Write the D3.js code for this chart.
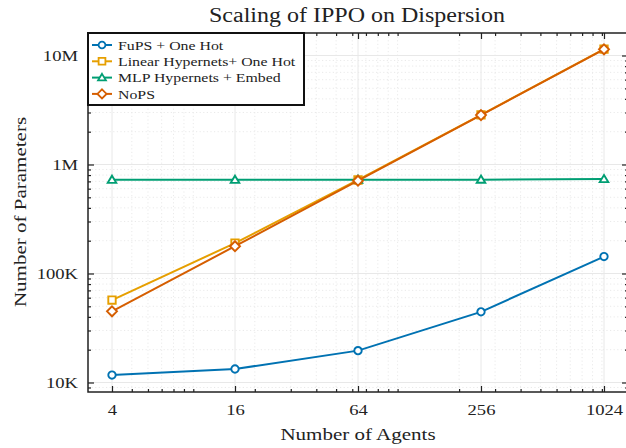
<!DOCTYPE html>
<html>
<head>
<meta charset="utf-8">
<script src="https://cdn.jsdelivr.net/npm/d3@7"></script>
<style>
  html, body { margin: 0; padding: 0; background: #fff; }
  svg text { font-family: "Liberation Serif", "DejaVu Serif", serif; fill: #222; }
</style>
</head>
<body>
<svg id="chart" width="626" height="448"></svg>
<script>
// Number of agents on the x axis
const agents = [4, 16, 64, 256, 1024];

// Parameter counts per method
const fups = [11700, 13300, 19600, 44500, 143000];
const linearHyper = [57000, 190000, 721000, 2850000, 11450000];
const mlpHyper = [724000, 724000, 725000, 726000, 735000];
const noPS = [45000, 178000, 710000, 2840000, 11400000];

const seriesNames = ["FuPS + One Hot", "Linear Hypernets+ One Hot", "MLP Hypernets + Embed", "NoPS"];
const seriesColors = ["#0072B2", "#E69F00", "#009E73", "#D55E00"];
const seriesMarkers = ["circle", "square", "triangle", "diamond"];

const xTickValues = [4, 16, 64, 256, 1024];
const yTickValues = [1e4, 1e5, 1e6, 1e7];
const yTickLabels = ["10K", "100K", "1M", "10M"];

const titleText = "Scaling of IPPO on Dispersion";
const xLabel = "Number of Agents";
const yLabel = "Number of Parameters";

const svg = d3.select("#chart");

// Plot frame
const frame = { left: 88, right: 628, top: 33, bottom: 392 };

const x = d3.scaleLog().base(2).domain([4, 1024]).range([112, 604]);
const y = d3.scaleLog().domain([1e4, 1e7]).range([382.5, 55.5]);

const xLo = x.invert(frame.left), xHi = x.invert(frame.right);
const yLo = y.invert(frame.bottom), yHi = y.invert(frame.top);

// Widen serif glyphs a little so the text runs as wide as a Computer Modern setting
const STRETCH = 1.2;
function widen(sel) {
  sel.each(function () {
    const w = this.getComputedTextLength();
    if (w > 0) {
      d3.select(this).attr("textLength", w * STRETCH).attr("lengthAdjust", "spacingAndGlyphs");
    }
  });
}

// Minor ticks at k·10^n inside the visible range
function minorValues(lo, hi, majors) {
  const out = [];
  for (let e = Math.floor(Math.log10(lo)); e <= Math.ceil(Math.log10(hi)); e++) {
    for (let k = 1; k <= 9; k++) {
      const v = k * Math.pow(10, e);
      if (v >= lo && v <= hi && !majors.some(m => Math.abs(m - v) / m < 1e-9)) out.push(v);
    }
  }
  return out;
}
const xMinor = minorValues(xLo, xHi, xTickValues);
const yMinor = minorValues(yLo, yHi, yTickValues);

const grid = svg.append("g");
// minor grid (dotted)
grid.selectAll("line.xmg").data(xMinor).join("line")
  .attr("x1", d => x(d)).attr("x2", d => x(d))
  .attr("y1", frame.top).attr("y2", frame.bottom)
  .attr("stroke", "#e4e4e4").attr("stroke-width", 0.8).attr("stroke-dasharray", "1.2,2.4");
grid.selectAll("line.ymg").data(yMinor).join("line")
  .attr("y1", d => y(d)).attr("y2", d => y(d))
  .attr("x1", frame.left).attr("x2", frame.right)
  .attr("stroke", "#e4e4e4").attr("stroke-width", 0.8).attr("stroke-dasharray", "1.2,2.4");
// major grid
grid.selectAll("line.xg").data(xTickValues).join("line")
  .attr("x1", d => x(d)).attr("x2", d => x(d))
  .attr("y1", frame.top).attr("y2", frame.bottom)
  .attr("stroke", "#e8e8e8").attr("stroke-width", 1);
grid.selectAll("line.yg").data(yTickValues).join("line")
  .attr("y1", d => y(d)).attr("y2", d => y(d))
  .attr("x1", frame.left).attr("x2", frame.right)
  .attr("stroke", "#e8e8e8").attr("stroke-width", 1);

// Axes with inward ticks on all four sides
const axisColor = "#222";
function styleAxis(g) {
  g.select(".domain").remove();
  g.selectAll(".tick line").attr("stroke", axisColor).attr("stroke-width", 1.2);
}
// bottom
svg.append("g").attr("transform", `translate(0,${frame.bottom})`)
  .call(d3.axisBottom(x).tickValues(xTickValues).tickFormat(d3.format("d")).tickSizeInner(-6).tickSizeOuter(0).tickPadding(12))
  .call(styleAxis)
  .call(g => g.selectAll("text").attr("font-size", 15.5).attr("font-family", "Liberation Serif").attr("fill", "#222").call(widen));
svg.append("g").attr("transform", `translate(0,${frame.bottom})`)
  .call(d3.axisBottom(x).tickValues(xMinor).tickFormat("").tickSizeInner(-3).tickSizeOuter(0))
  .call(styleAxis);
// top
svg.append("g").attr("transform", `translate(0,${frame.top})`)
  .call(d3.axisTop(x).tickValues(xTickValues).tickFormat("").tickSizeInner(-6).tickSizeOuter(0))
  .call(styleAxis);
svg.append("g").attr("transform", `translate(0,${frame.top})`)
  .call(d3.axisTop(x).tickValues(xMinor).tickFormat("").tickSizeInner(-3).tickSizeOuter(0))
  .call(styleAxis);
// left
svg.append("g").attr("transform", `translate(${frame.left},0)`)
  .call(d3.axisLeft(y).tickValues(yTickValues).tickFormat((d, i) => yTickLabels[i]).tickSizeInner(-6).tickSizeOuter(0).tickPadding(10))
  .call(styleAxis)
  .call(g => g.selectAll("text").attr("font-size", 15.5).attr("font-family", "Liberation Serif").attr("fill", "#222").call(widen));
svg.append("g").attr("transform", `translate(${frame.left},0)`)
  .call(d3.axisLeft(y).tickValues(yMinor).tickFormat("").tickSizeInner(-3).tickSizeOuter(0))
  .call(styleAxis);
// right
svg.append("g").attr("transform", `translate(${frame.right},0)`)
  .call(d3.axisRight(y).tickValues(yTickValues).tickFormat("").tickSizeInner(-6).tickSizeOuter(0))
  .call(styleAxis);
svg.append("g").attr("transform", `translate(${frame.right},0)`)
  .call(d3.axisRight(y).tickValues(yMinor).tickFormat("").tickSizeInner(-3).tickSizeOuter(0))
  .call(styleAxis);

// frame border
svg.append("rect")
  .attr("x", frame.left).attr("y", frame.top)
  .attr("width", frame.right - frame.left).attr("height", frame.bottom - frame.top)
  .attr("fill", "none").attr("stroke", axisColor).attr("stroke-width", 1.5);

// Series
const allSeries = [fups, linearHyper, mlpHyper, noPS];
const line = d3.line().x((d, i) => x(agents[i])).y(d => y(d));

function markerPath(type, size) {
  const s = size;
  if (type === "circle") return d3.symbol(d3.symbolCircle, s * s * Math.PI)();
  if (type === "square") return `M${-s},${-s}H${s}V${s}H${-s}Z`;
  if (type === "triangle") {
    const h = s * 1.1;
    return `M0,${-h}L${h * 1.05},${h * 0.75}L${-h * 1.05},${h * 0.75}Z`;
  }
  // diamond
  const d = s * 1.35;
  return `M0,${-d}L${d},0L0,${d}L${-d},0Z`;
}

const plot = svg.append("g");
allSeries.forEach((vals, si) => {
  const g = plot.append("g");
  g.append("path").datum(vals).attr("d", line)
    .attr("fill", "none").attr("stroke", seriesColors[si]).attr("stroke-width", 2);
  g.selectAll("path.m").data(vals).join("path").attr("class", "m")
    .attr("transform", (d, i) => `translate(${x(agents[i])},${y(d)})`)
    .attr("d", markerPath(seriesMarkers[si], 3.7))
    .attr("fill", "#fff").attr("stroke", seriesColors[si]).attr("stroke-width", 1.9);
});

// Legend
const legend = svg.append("g");
legend.append("rect")
  .attr("x", frame.left).attr("y", frame.top)
  .attr("width", 216).attr("height", 72)
  .attr("fill", "#fff").attr("stroke", "#111").attr("stroke-width", 2);
seriesNames.forEach((name, i) => {
  const cy = frame.top + 12 + i * 16.3;
  legend.append("line").attr("x1", 92).attr("x2", 112).attr("y1", cy).attr("y2", cy)
    .attr("stroke", seriesColors[i]).attr("stroke-width", 2);
  legend.append("path").attr("transform", `translate(102,${cy})`)
    .attr("d", markerPath(seriesMarkers[i], 3.4))
    .attr("fill", "#fff").attr("stroke", seriesColors[i]).attr("stroke-width", 1.8);
  legend.append("text").attr("x", 118).attr("y", cy).attr("dy", "0.35em")
    .attr("font-size", 13.2).text(name).call(widen);
});

// Titles
svg.append("text").attr("x", 357).attr("y", 15).attr("dy", "0.35em")
  .attr("text-anchor", "middle").attr("font-size", 20).text(titleText).call(widen);
svg.append("text").attr("x", 358).attr("y", 434).attr("dy", "0.35em")
  .attr("text-anchor", "middle").attr("font-size", 17.5).text(xLabel).call(widen);
svg.append("text").attr("transform", "translate(20,212) rotate(-90)").attr("dy", "0.35em")
  .attr("text-anchor", "middle").attr("font-size", 17.5).text(yLabel).call(widen);
</script>
</body>
</html>
